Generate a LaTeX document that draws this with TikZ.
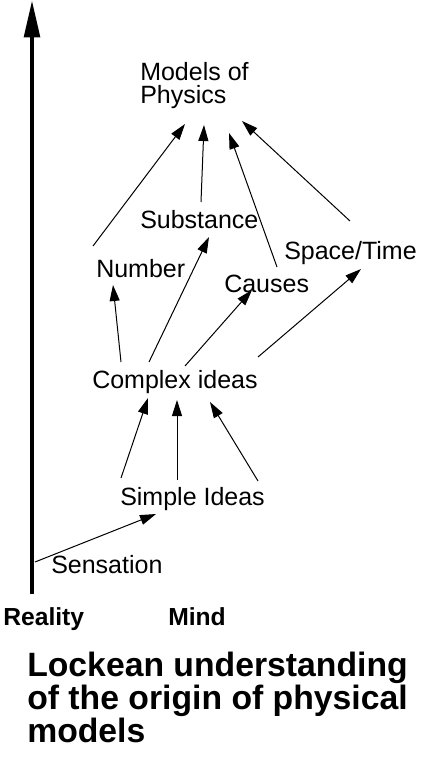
\documentclass[tikz,border=0pt]{standalone}
\usepackage{fontspec}
\setmainfont{Liberation Sans}
\usetikzlibrary{arrows.meta}
\begin{document}
\begin{tikzpicture}[x=0.75pt,y=-0.75pt,
  lbl/.style={anchor=base west, inner sep=0pt, align=left, font=\fontsize{18.75}{17.25}\selectfont},
  side/.style={anchor=base west, inner sep=0pt, font=\bfseries\fontsize{18.5}{20}\selectfont},
  ttl/.style={anchor=base west, inner sep=0pt, align=left, font=\bfseries\fontsize{25.3}{21.4}\selectfont},
  flow/.style={line width=0.75pt, -{Triangle[length=12pt,width=7.5pt]}},
  axis/.style={line width=3.4pt, -{Triangle[length=28pt,width=11.5pt]}},
]
\useasboundingbox (0,0) rectangle (432,760);
% texts (base anchor = baseline of last line)
\node[lbl] (models) at (140,103) {Models of\\Physics};
\node[lbl] (substance) at (140,228) {Substance};
\node[lbl] (number) at (96,277) {Number};
\node[lbl] (causes) at (224,292) {Causes};
\node[lbl] (spacetime) at (284,259) {Space/Time};
\node[lbl] (complex) at (92,388) {Complex ideas};
\node[lbl] (simple) at (120,505) {Simple Ideas};
\node[lbl] (sensation) at (51,573) {Sensation};
\node[side] (reality) at (3,625) {Reality};
\node[side] (mind) at (168,625) {Mind};
\node[ttl] (title) at (27,742) {Lockean understanding\\of the origin of physical\\models};
% reality axis
\coordinate (axbot) at (32,594);
\coordinate (axtop) at (32,0);
\draw[axis] (axbot) -- (axtop);
% endpoints
\coordinate (m1) at (185,124);
\coordinate (m2) at (204,125);
\coordinate (m3) at (229,133);
\coordinate (m4) at (242,121);
\coordinate (nout) at (93,246);
\coordinate (sout) at (201,202);
\coordinate (cout) at (277,267);
\coordinate (tout) at (350,221);
\coordinate (nin) at (113,285);
\coordinate (sin) at (209,237);
\coordinate (cin) at (252,290);
\coordinate (tin) at (361,269);
\coordinate (c1) at (121,362);
\coordinate (c2) at (149,362);
\coordinate (c3) at (185,366);
\coordinate (c4) at (258,357);
\coordinate (ci1) at (148,398);
\coordinate (ci2) at (177,400);
\coordinate (ci3) at (210,402);
\coordinate (s1) at (121,478);
\coordinate (s2) at (177,480);
\coordinate (s3) at (258,481);
\coordinate (sensout) at (35,562);
\coordinate (simin) at (156,514);
% connectors
\draw[flow] (nout) -- (m1);
\draw[flow] (sout) -- (m2);
\draw[flow] (cout) -- (m3);
\draw[flow] (tout) -- (m4);
\draw[flow] (c1) -- (nin);
\draw[flow] (c2) -- (sin);
\draw[flow] (c3) -- (cin);
\draw[flow] (c4) -- (tin);
\draw[flow] (s1) -- (ci1);
\draw[flow] (s2) -- (ci2);
\draw[flow] (s3) -- (ci3);
\draw[flow] (sensout) -- (simin);
\end{tikzpicture}
\end{document}
